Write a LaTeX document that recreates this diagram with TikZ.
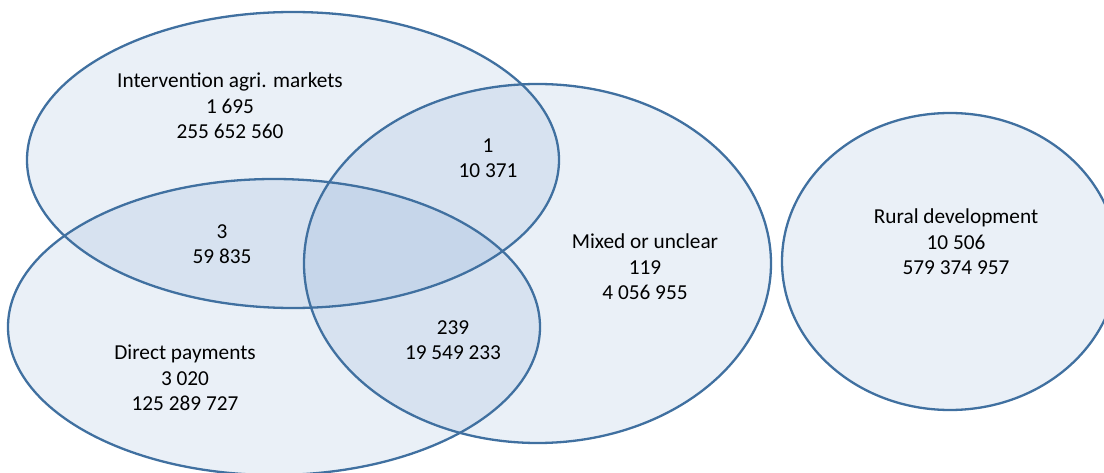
\documentclass[tikz,border=0pt]{standalone}
\usepackage{fontspec}
\setmainfont{Carlito}
\definecolor{vfill}{RGB}{79,129,189}
\definecolor{vline}{RGB}{64,112,160}
\tikzset{
  setfill/.style={fill=vfill, fill opacity=0.12},
  setline/.style={draw=vline, line width=2.3pt},
  lbl/.style={align=center, inner sep=0pt, font=\fontsize{21.3}{25.5}\selectfont, text=black}
}
\begin{document}
\begin{tikzpicture}[x=1pt,y=-1pt]
\clip (0,0) rectangle (1104,473);
% centres of the four sets
\coordinate (cI) at (293,160);
\coordinate (cM) at (537.5,263.5);
\coordinate (cD) at (274,327);
\coordinate (cR) at (950,261.5);
% fills
\fill[setfill] (cI) ellipse [x radius=266, y radius=148];
\fill[setfill] (cM) ellipse [x radius=233.5, y radius=179.5];
\fill[setfill] (cD) ellipse [x radius=266, y radius=148];
\fill[setfill] (cR) ellipse [x radius=168, y radius=148.5];
% outlines
\draw[setline] (cI) ellipse [x radius=266, y radius=148];
\draw[setline] (cM) ellipse [x radius=233.5, y radius=179.5];
\draw[setline] (cD) ellipse [x radius=266, y radius=148];
\draw[setline] (cR) ellipse [x radius=168, y radius=148.5];
% labels
\node[lbl] (tI) at (230,106) {Intervention agri. markets\\1 695\\255 652 560};
\node[lbl] (tIM) at (488,158) {1\\10 371};
\node[lbl] (tID) at (222,244) {3\\59 835};
\node[lbl] (tM) at (645,267) {Mixed or unclear\\119\\4 056 955};
\node[lbl] (tR) at (956,242) {Rural development\\10 506\\579 374 957};
\node[lbl] (tD) at (185,378) {Direct payments\\3 020\\125 289 727};
\node[lbl] (tDM) at (453,340) {239\\19 549 233};
\end{tikzpicture}
\end{document}
